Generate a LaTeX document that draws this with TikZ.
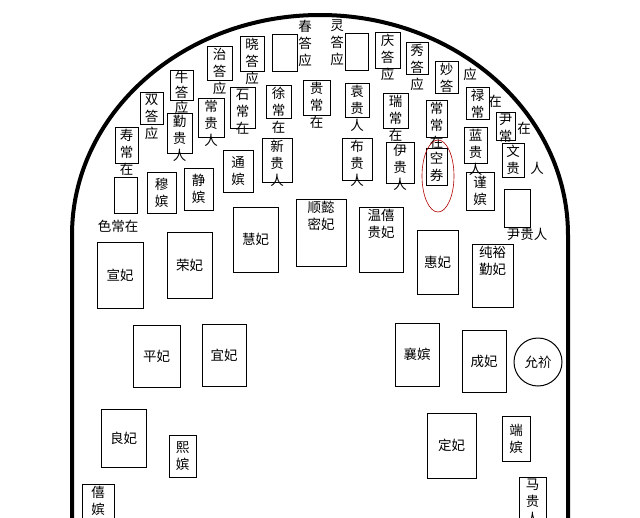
\documentclass[tikz,border=0pt]{standalone}
\usepackage{fontspec}
\newfontfamily\cjk{Noto Sans CJK SC}
\begin{document}
\begin{tikzpicture}[x=1pt, y=-1pt,
	seat/.style={draw, line width=1pt},
	txt/.style={font=\cjk\fontsize{13.5}{17}\selectfont, align=center, inner sep=0pt}]

% \seatv#name#x1#y1#x2#y2#text  (text runs down from the top)
\def\seatv#1#2#3#4#5#6{
	\draw[seat] (#2, #3) rectangle (#4, #5);
	\node[txt, anchor=north] (#1) at ({(#2 + #4) / 2}, #3 + 2) {#6};
}

% \room#name#x1#y1#x2#y2#text  (text in the middle)
\def\room#1#2#3#4#5#6{
	\draw[seat] (#2, #3) rectangle (#4, #5);
	\node[txt] (#1) at ({(#2 + #4) / 2}, {(#3 + #5) / 2}) {#6};
}

\useasboundingbox (0, 0) rectangle (640, 517);

% wall
\draw[line width=4pt] (72, 530) -- (72, 235)
	arc[start angle=180, end angle=360, x radius=248, y radius=220] -- (568, 530);

% back rows
\seatv{shou}{115}{127}{138}{163}{寿\\常\\在}
\seatv{shuang}{140}{92}{163}{124}{双\\答\\应}
\node[txt, anchor=north, font=\cjk\fontsize{13.5}{15}\selectfont] (niu) at (181.5, 71) {牛\\答\\应};
\draw[seat] (170, 70) rectangle (193, 100);
\seatv{qin}{167}{113}{192}{153}{勤\\贵\\人}
\seatv{zhi}{207}{46}{232}{80}{治\\答\\应}
\seatv{changgui}{198}{98}{224}{137}{常\\贵\\人}
\seatv{xiao}{240}{36}{264}{71}{晓\\答\\应}
\seatv{shi}{230}{87}{255}{128}{石\\常\\在}
\seatv{xu}{266}{85}{291}{118}{徐\\常\\在}
\seatv{guichang}{303}{80}{330}{115}{贵\\常\\在}
\seatv{xin}{262}{138}{292}{182}{新\\贵\\人}
\seatv{qing}{375}{32}{400}{68}{庆\\答\\应}
\seatv{xiu}{406}{42}{428}{74}{秀\\答\\应}
\seatv{miao}{435}{61}{458}{93}{妙\\答}
\seatv{yuan}{345}{83}{369}{117}{袁\\贵\\人}
\seatv{rui}{383}{93}{408}{128}{瑞\\常\\在}
\seatv{changchang}{426}{100}{447}{137}{常\\常\\在}
\seatv{lu}{466}{87}{489}{119}{禄\\常}
\seatv{yinchang}{496}{112}{515}{140}{尹\\常}
\seatv{bu}{342}{138}{372}{180}{布\\贵\\人}
\seatv{yigui}{386}{142}{414}{183}{伊\\贵\\人}
\seatv{lan}{464}{127}{487}{163}{蓝\\贵\\人}
\seatv{wen}{502}{143}{524}{177}{文\\贵}
\room{tong}{223}{150}{253}{192}{通\\嫔}
\room{mu}{147}{172}{176}{213}{穆\\嫔}
\room{jing}{184}{168}{213}{210}{静\\嫔}
\room{kong}{426}{148}{447}{185}{空\\券}
\room{jin}{466}{172}{494}{210}{谨\\嫔}

% empty seats
\draw[seat] (114, 177) rectangle (137, 213);
\draw[seat] (272, 34) rectangle (297, 71);
\draw[seat] (345, 33) rectangle (368, 70);
\draw[seat] (504, 189) rectangle (530, 227);

% loose names
\node[txt, anchor=north] (chun) at (305, 20) {春\\答\\应};
\node[txt, anchor=north] (ling) at (337, 20) {灵\\答\\应};
\node[txt] (miaoying) at (470, 74) {应};
\node[txt] (luzai) at (495, 101) {在};
\node[txt] (yinzai) at (524, 128) {在};
\node[txt] (wenren) at (537, 168) {人};
\node[txt] (se) at (118, 226) {色常在};
\node[txt] (yingui) at (527, 234) {尹贵人};
\draw[red!70!black, line width=0.6pt] (438, 176) ellipse[x radius=16, y radius=36];

% front halls
\room{xuan}{97}{242}{143}{308}{宣妃}
\room{rong}{167}{232}{212}{298}{荣妃}
\room{hui}{233}{207}{278}{272}{慧妃}
\seatv{shunyi}{296}{199}{346}{266}{顺懿\\密妃}
\seatv{wenxi}{359}{207}{403}{272}{温僖\\贵妃}
\room{huifei}{417}{230}{458}{294}{惠妃}
\seatv{chunyu}{472}{244}{513}{307}{纯裕\\勤妃}
\room{ping}{133}{325}{180}{387}{平妃}
\room{yifei}{202}{324}{246}{386}{宜妃}
\room{xiang}{395}{323}{439}{386}{襄嫔}
\room{cheng}{462}{330}{506}{392}{成妃}
\node[txt, draw, line width=1pt, circle, minimum size=48pt] (yun) at (538, 362) {允祄};
\room{liang}{101}{409}{146}{467}{良妃}
\room{xi}{169}{435}{196}{477}{熙\\嫔}
\room{ding}{427}{413}{476}{478}{定妃}
\room{duan}{502}{416}{530}{461}{端\\嫔}
\seatv{xipin}{82}{484}{114}{530}{僖\\嫔}
\seatv{ma}{519}{477}{546}{530}{马\\贵\\人}
\end{tikzpicture}
\end{document}
